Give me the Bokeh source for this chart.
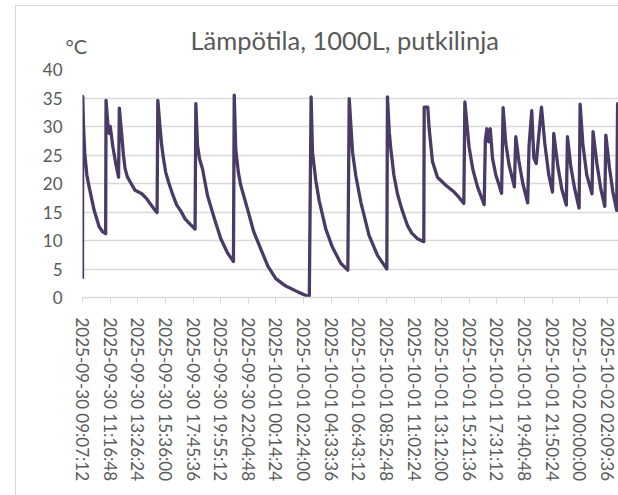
import pandas as pd
from bokeh.plotting import figure
from bokeh.models import FixedTicker, Range1d, Label
from bokeh.embed import file_html
from bokeh.resources import INLINE

# hours since 2025-09-30 09:07:12
hours = [0.00, 0.02, 0.08, 0.18, 0.34, 0.52, 0.91, 1.30, 1.59, 1.81,
         1.84, 2.02, 2.10, 2.17, 2.37, 2.60, 2.82,
         2.88, 3.07, 3.20, 3.33, 3.50, 3.72, 4.11, 4.64, 5.03, 5.28, 5.57, 5.83,
         5.89, 6.07, 6.19, 6.33, 6.50, 6.72, 7.06, 7.37, 7.68, 8.02, 8.31, 8.80,
         8.86, 8.99, 9.15, 9.38, 9.77, 10.29, 10.81, 11.34, 11.80,
         11.86, 11.98, 12.18, 12.37, 12.90, 13.39, 13.94, 14.49, 15.11, 15.89, 16.91, 17.73,
         17.87, 17.98, 18.24, 18.50, 19.02, 19.54, 20.19, 20.74,
         20.85, 21.11, 21.36, 21.76, 22.40, 23.06, 23.79,
         23.84, 23.98, 24.10, 24.34, 24.62, 24.96, 25.41, 25.74, 26.19, 26.68,
         26.71, 26.99, 27.10, 27.36, 27.75, 28.40, 29.05, 29.42, 29.81,
         29.89, 30.22, 30.51, 30.88, 31.40,
         31.49, 31.61, 31.75, 31.88, 32.05, 32.31, 32.57, 32.76,
         32.88, 33.09, 33.35, 33.76,
         33.87, 34.11, 34.42, 34.80,
         34.91, 35.12, 35.28, 35.47, 35.59, 35.88,
         36.14, 36.45, 36.74, 36.84, 37.16, 37.47, 37.82,
         37.91, 38.17, 38.48, 38.82, 38.90, 39.11, 39.42, 39.83,
         39.91, 40.21, 40.52, 40.83, 40.91, 41.18, 41.46, 41.76,
         41.83, 42.10, 42.40]
temps = [3.3, 35.3, 29.9, 25.2, 21.5, 19.4, 15.3, 12.4, 11.5, 11.2,
         34.6, 29.3, 28.8, 30.0, 26.5, 23.5, 21.1,
         33.2, 28.5, 25.0, 22.6, 21.2, 20.3, 18.8, 18.2, 17.3, 16.5, 15.6, 14.9,
         34.6, 29.6, 26.7, 24.4, 22.0, 20.3, 18.0, 16.2, 15.2, 13.8, 13.1, 12.0,
         34.0, 26.7, 24.3, 22.6, 17.9, 14.0, 10.3, 7.8, 6.3,
         35.5, 26.0, 22.0, 19.7, 15.5, 11.5, 8.5, 5.5, 3.3, 2.0, 0.9, 0.1,
         35.2, 25.5, 20.5, 17.0, 12.0, 8.8, 6.0, 4.8,
         34.9, 25.5, 21.4, 16.7, 10.9, 7.4, 5.0,
         35.2, 29.0, 26.1, 21.5, 18.2, 15.5, 12.6, 11.3, 10.3, 9.8,
         33.4, 33.4, 29.6, 23.8, 21.1, 19.7, 18.5, 17.6, 16.5,
         34.3, 26.4, 22.5, 19.4, 16.3,
         27.5, 29.6, 27.3, 29.6, 24.4, 21.5, 19.7, 18.3,
         33.3, 27.0, 23.2, 19.4,
         28.2, 24.0, 20.0, 16.6,
         26.7, 32.8, 24.5, 23.5, 26.5, 33.4,
         27.0, 21.5, 18.5, 28.8, 23.0, 19.0, 16.2,
         28.2, 23.0, 19.0, 15.7, 33.9, 27.0, 21.5, 18.2,
         29.1, 23.5, 19.0, 16.0, 28.5, 23.0, 18.5, 15.3,
         34.0, 27.0, 23.0]

tick_labels = ["2025-09-30 09:07:12", "2025-09-30 11:16:48", "2025-09-30 13:26:24",
               "2025-09-30 15:36:00", "2025-09-30 17:45:36", "2025-09-30 19:55:12",
               "2025-09-30 22:04:48", "2025-10-01 00:14:24", "2025-10-01 02:24:00",
               "2025-10-01 04:33:36", "2025-10-01 06:43:12", "2025-10-01 08:52:48",
               "2025-10-01 11:02:24", "2025-10-01 13:12:00", "2025-10-01 15:21:36",
               "2025-10-01 17:31:12", "2025-10-01 19:40:48", "2025-10-01 21:50:24",
               "2025-10-02 00:00:00", "2025-10-02 02:09:36"]
y_ticks = [0, 5, 10, 15, 20, 25, 30, 35, 40]

title_text = "Lämpötila, 1000L, putkilinja"
unit_text = "°C"

t0 = pd.Timestamp(tick_labels[0])
tick_hours = [(pd.Timestamp(s) - t0).total_seconds() / 3600 for s in tick_labels]

FONT = "Lato"
GREY = "#595959"
GRID = "#d9d9d9"

chart_border = ("linear-gradient(#d9d9d9, #d9d9d9) 15px 5px / 1px 100% no-repeat, "
                "linear-gradient(#d9d9d9, #d9d9d9) 15px 5px / 100% 1px no-repeat, white")

p = figure(width=618, height=495, output_backend="svg", toolbar_location=None,
           x_range=Range1d(0, 41.9), y_range=Range1d(0, 40),
           min_border_left=82, min_border_right=0, min_border_top=69,
           min_border_bottom=198, styles={"background": chart_border})
p.outline_line_color = None
p.background_fill_color = "white"
p.border_fill_color = None

p.line(hours, temps, line_color="#4a3b66", line_width=3.3, line_join="round")

p.title.text = title_text
p.title.align = "left"
p.title.offset = 108
p.title.text_font = FONT
p.title.text_font_size = "25.5px"
p.title.text_font_style = "normal"
p.title.text_color = GREY
p.title.standoff = 29

p.xgrid.grid_line_color = None
p.ygrid.grid_line_color = GRID
p.ygrid.grid_line_width = 1.3

p.yaxis.ticker = FixedTicker(ticks=y_ticks)
p.yaxis.axis_line_color = None
p.yaxis.major_tick_line_color = None
p.yaxis.major_tick_in = 0
p.yaxis.major_tick_out = 0
p.yaxis.minor_tick_line_color = None
p.yaxis.major_label_standoff = 20
p.yaxis.major_label_text_font = FONT
p.yaxis.major_label_text_font_size = "17px"
p.yaxis.major_label_text_color = GREY

p.xaxis.ticker = FixedTicker(ticks=tick_hours)
p.xaxis.major_label_overrides = {h: s for h, s in zip(tick_hours, tick_labels)}
p.xaxis.major_label_orientation = "vertical"
p.xaxis.axis_line_color = GRID
p.xaxis.axis_line_width = 1.3
p.xaxis.major_tick_line_color = GRID
p.xaxis.major_tick_in = 0
p.xaxis.major_tick_out = 6
p.xaxis.minor_tick_line_color = None
p.xaxis.major_label_standoff = 14
p.xaxis.major_label_text_font = FONT
p.xaxis.major_label_text_font_size = "17px"
p.xaxis.major_label_text_color = GREY

p.add_layout(Label(x=0, y=44.2, text=unit_text, text_align="left", text_baseline="middle",
                   x_offset=-17, text_font=FONT, text_font_size="20px", text_color=GREY),
             "left")

open("out.html", "w").write(file_html(p, INLINE))
